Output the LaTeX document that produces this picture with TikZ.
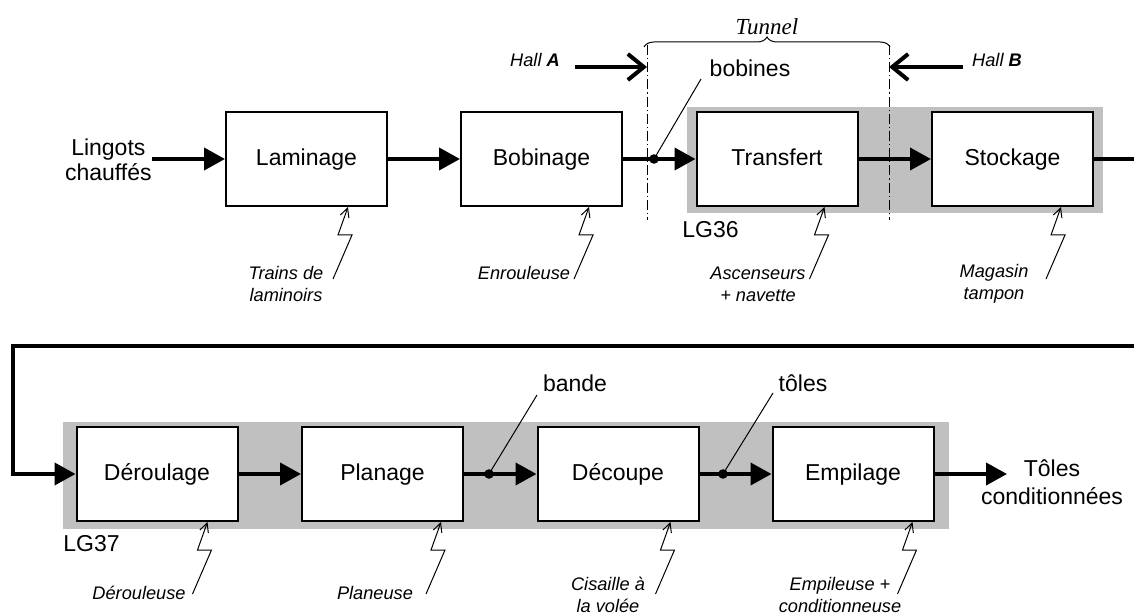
\documentclass[tikz,border=0pt]{standalone}
\usepackage{fontspec}
\setmainfont{Liberation Sans}
\newfontfamily\tunnelfont{Liberation Serif}
\usetikzlibrary{arrows.meta,decorations.pathreplacing,calc}
\definecolor{lggray}{RGB}{192,192,192}
\newcommand\mechlink[2]{\draw[mech] ($(#1.south west)+(#2-15,72)$) -- ++(19,-44) -- ++(-14,0) -- ($(#1.south west)+(#2,0)$);}
\begin{document}
\begin{tikzpicture}[x=0.5pt,y=-0.5pt,
  proc/.style={draw, line width=1pt, fill=white, minimum width=80.5pt, minimum height=47pt, inner sep=0pt, text height=8.6pt, text depth=2.2pt, font=\fontsize{11.5}{12.5}\selectfont},
  txt/.style={inner sep=0pt, font=\fontsize{11.5}{12.5}\selectfont, align=center},
  lbl/.style={inner sep=0pt, font=\fontsize{9.1}{11}\selectfont\itshape, align=center},
  flow/.style={line width=2pt, -{Triangle[length=10.5pt,width=11pt]}},
  plain/.style={line width=2pt},
  hallarrow/.style={line width=2pt, -{Straight Barb[length=8pt,width=13pt]}},
  mech/.style={line width=0.5pt, -{Straight Barb[length=4.5pt,width=4.5pt]}},
  leader/.style={line width=0.5pt},
  tunline/.style={line width=0.5pt, dash pattern=on 5pt off 1.5pt on 0.6pt off 1.5pt},
  region/.style={fill=lggray, draw=none},
  dot/.style={fill=black}
]
\useasboundingbox (0,0) rectangle (1134,614);

% gray regions
\fill[region] (687,107) rectangle (1103,213);
\fill[region] (63,422) rectangle (949,529);

% top row
\node[proc] (lam) at (306.5,159) {Laminage};
\node[proc] (bob) at (541.5,159) {Bobinage};
\node[proc] (tra) at (777,159) {Transfert};
\node[proc] (sto) at (1012.5,159) {Stockage};

% bottom row
\node[proc] (der) at (157,474) {Déroulage};
\node[proc] (pla) at (382.5,474) {Planage};
\node[proc] (dec) at (618,474) {Découpe};
\node[proc] (emp) at (853,474) {Empilage};

% inputs / outputs
\node[txt, anchor=east] (ling) at (152,160) {Lingots\\chauffés};
\node[txt, font=\fontsize{11.5}{14}\selectfont] (out) at (1052,482) {Tôles\\conditionnées};
\coordinate (outin) at (1007,474);

\node[txt, anchor=west] (lg36) at (682,230) {LG36};
\node[txt, anchor=west] (lg37) at (63,544) {LG37};

% flows top
\draw[flow] (ling.east |- lam.west) -- (lam.west);
\draw[flow] (lam.east) -- (bob.west);
\coordinate (d1) at (654,159);
\draw[flow] (bob.east) -- (d1) -- (tra.west);
\fill[dot] (d1) circle[radius=2.4pt];
\draw[flow] (tra.east) -- (sto.west);
\coordinate (topexit) at (1134,159);
\draw[plain] (sto.east) -- (topexit);

% loop bottom
\coordinate (botentry) at (1134,346);
\coordinate (loopc1) at (13,346);
\coordinate (loopc2) at (13,474);
\draw[flow, line join=miter] (botentry) -- (loopc1) -- (loopc2) -- (der.west);

% flows bottom
\draw[flow] (der.east) -- (pla.west);
\coordinate (d2) at (489,474);
\draw[flow] (pla.east) -- (d2) -- (dec.west);
\fill[dot] (d2) circle[radius=2.4pt];
\coordinate (d3) at (723,474);
\draw[flow] (dec.east) -- (d3) -- (emp.west);
\fill[dot] (d3) circle[radius=2.4pt];
\draw[flow] (emp.east) -- (outin);

% material labels
\node[txt] (bobl) at (750,68) {bobines};
\coordinate (bobls) at (701,79);
\draw[leader] (bobls) -- (d1);
\node[txt] (bandl) at (575,383) {bande};
\coordinate (bandls) at (537,395);
\draw[leader] (bandls) -- (d2);
\node[txt] (tolesl) at (803,383) {tôles};
\coordinate (tolesls) at (773,393);
\draw[leader] (tolesls) -- (d3);

% tunnel
\coordinate (tl1) at (647,45);
\coordinate (tl2) at (647,220);
\coordinate (tr1) at (889,45);
\coordinate (tr2) at (889,220);
\draw[tunline] (tl1) -- (tl2);
\draw[tunline] (tr1) -- (tr2);
\draw[line width=0.5pt, decorate, decoration={brace, amplitude=5pt}] (644,47) -- (890,47);
\node[inner sep=0pt, font=\fontsize{11.5}{12.5}\selectfont\tunnelfont\itshape] (tun) at (767,27) {Tunnel};

% halls
\node[lbl] (hallA) at (535,60) {Hall \textbf{A}};
\coordinate (haS) at (575,67);
\draw[hallarrow] (haS) -- (tl1 |- haS);
\node[lbl] (hallB) at (997,60) {Hall \textbf{B}};
\coordinate (hbS) at (963,67);
\draw[hallarrow] (hbS) -- (tr1 |- hbS);

% mechanisms
\mechlink{lam}{123}
\mechlink{bob}{129}
\mechlink{tra}{129}
\mechlink{sto}{130}
\mechlink{der}{132}
\mechlink{pla}{140}
\mechlink{dec}{134}
\mechlink{emp}{141}

\node[lbl] (m1) at (286,284) {Trains de\\laminoirs};
\node[lbl] (m2) at (524,273) {Enrouleuse};
\node[lbl] (m3) at (758,284) {Ascenseurs\\+ navette};
\node[lbl] (m4) at (994,284) {Magasin\\tampon};
\node[lbl] (m5) at (139,593) {Dérouleuse};
\node[lbl] (m6) at (375,593) {Planeuse};
\node[lbl] (m7) at (608,595) {Cisaille à\\la volée};
\node[lbl] (m8) at (840,595) {Empileuse +\\conditionneuse};
\end{tikzpicture}
\end{document}
